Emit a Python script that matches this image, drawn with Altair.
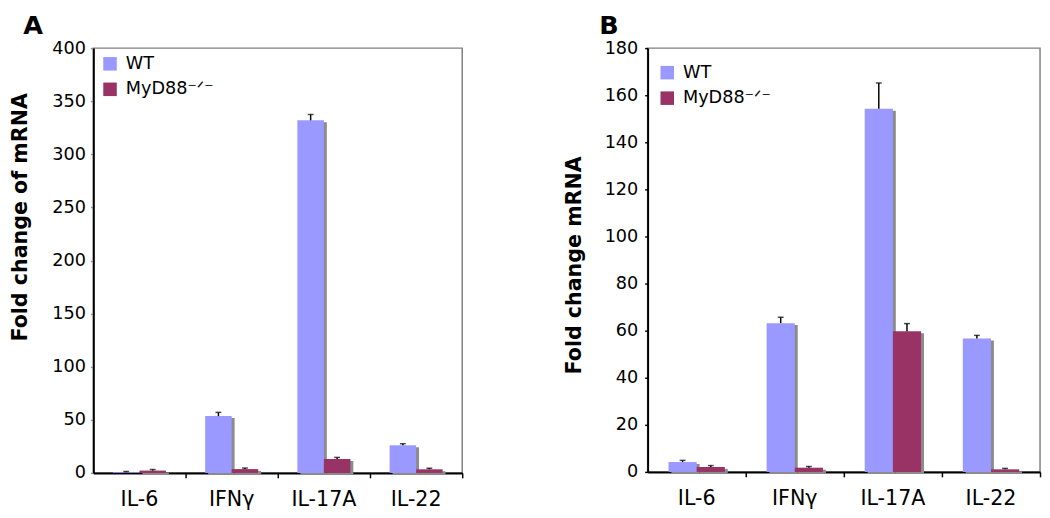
import altair as alt
import pandas as pd

categories = ["IL-6", "IFNγ", "IL-17A", "IL-22"]
genotypes = ["WT", "MyD88⁻ᐟ⁻"]
colors = ["#9999FF", "#993366"]

# Panel A
a_wt = [0.7, 53.5, 332.0, 26.0]
a_wt_err = [0.6, 3.5, 5.5, 1.5]
a_ko = [2.2, 3.6, 13.0, 3.4]
a_ko_err = [1.0, 1.0, 1.6, 1.0]

# Panel B
b_wt = [4.2, 63.2, 154.2, 56.7]
b_wt_err = [0.7, 2.5, 11.0, 1.3]
b_ko = [2.1, 1.8, 59.7, 1.1]
b_ko_err = [0.6, 0.5, 3.3, 0.4]

FONT = "DejaVu Sans"


def panel(letter, letter_dx, ytitle, title_y, wt, wt_err, ko, ko_err, ymax,
          ystep, w, h, lx, ly, ytick_color, label_pad, title_pad):
    df = pd.DataFrame({
        "Cytokine": categories * 2,
        "Genotype": [genotypes[0]] * 4 + [genotypes[1]] * 4,
        "Value": wt + ko,
        "Err": wt_err + ko_err,
    })
    df["Top"] = df["Value"] + df["Err"]
    step = w / len(categories)

    xenc = alt.X(
        "Cytokine:N", sort=categories, title=None,
        scale=alt.Scale(paddingInner=0, paddingOuter=0),
        axis=alt.Axis(bandPosition=1, labelAngle=0,
                      labelFontSize=21, labelPadding=11, tickSize=5,
                      tickColor="black", tickWidth=1.5, domainColor="black",
                      domainWidth=2, labelColor="black", labelFont=FONT),
    )
    xo = alt.XOffset("Genotype:N", sort=genotypes,
                     scale=alt.Scale(paddingInner=0, paddingOuter=0.74))
    xo_sh = alt.XOffset("Genotype:N", sort=genotypes,
                        scale=alt.Scale(paddingInner=0, paddingOuter=0.74,
                                        range=[3, step + 3]))
    yaxis = alt.Axis(values=list(range(0, ymax + 1, ystep)), title=ytitle,
                     labelFontSize=18, labelFont=FONT, labelColor="black",
                     labelPadding=label_pad, tickSize=3, tickColor=ytick_color,
                     tickWidth=1.5, domainColor="black", domainWidth=2,
                     titleFontSize=21, titleFont=FONT, titleFontWeight="bold",
                     titleColor="black", titlePadding=title_pad,
                     titleY=title_y, grid=False)
    yenc = alt.Y("Value:Q", scale=alt.Scale(domain=[0, ymax], nice=False),
                 axis=yaxis)
    color = alt.Color(
        "Genotype:N", sort=genotypes,
        scale=alt.Scale(domain=genotypes, range=colors),
        legend=alt.Legend(orient="none", legendX=lx, legendY=ly, title=None,
                          symbolType="square", symbolSize=190,
                          symbolStrokeWidth=0, labelFontSize=18,
                          labelFont=FONT, labelColor="black", labelOffset=7,
                          rowPadding=8, padding=0),
    )
    base = alt.Chart(df)
    shadow = base.mark_bar(color="#8c8c8c", yOffset=2).encode(
        x=xenc, xOffset=xo_sh, y=yenc)
    bars = base.mark_bar().encode(x=xenc, xOffset=xo, y=yenc, color=color)
    rule = base.mark_rule(color="black", strokeWidth=1.5).encode(
        x=xenc, xOffset=xo, y="Value:Q", y2="Top:Q")
    cap = base.mark_tick(color="black", size=6, thickness=1.5).encode(
        x=xenc, xOffset=xo, y="Top:Q")
    return alt.layer(shadow, bars, rule, cap).resolve_scale(
        xOffset="independent"
    ).properties(
        width=w, height=h,
        title=alt.TitleParams(letter, anchor="start", frame="bounds",
                              dx=letter_dx, fontSize=26, fontWeight="bold",
                              font=FONT, color="black", offset=0),
    )


pa = panel("A", 14, "Fold change of mRNA", 172, a_wt, a_wt_err, a_ko,
           a_ko_err, 400, 50, 376, 433, 8, 7, "#999999", 5, 22)
pb = panel("B", 36, "Fold change mRNA", 221, b_wt, b_wt_err, b_ko, b_ko_err,
           180, 20, 400, 432, 11, 16, "black", 7, 20)

chart = alt.hconcat(pa, pb, spacing=100).resolve_scale(
    color="independent", xOffset="independent", y="independent"
).properties(
    padding={"left": 0, "top": 0, "right": 0, "bottom": 0}
).configure_view(stroke="#808080", strokeWidth=1.5)

chart.save("out.html", embed_options={"renderer": "svg", "actions": False})
